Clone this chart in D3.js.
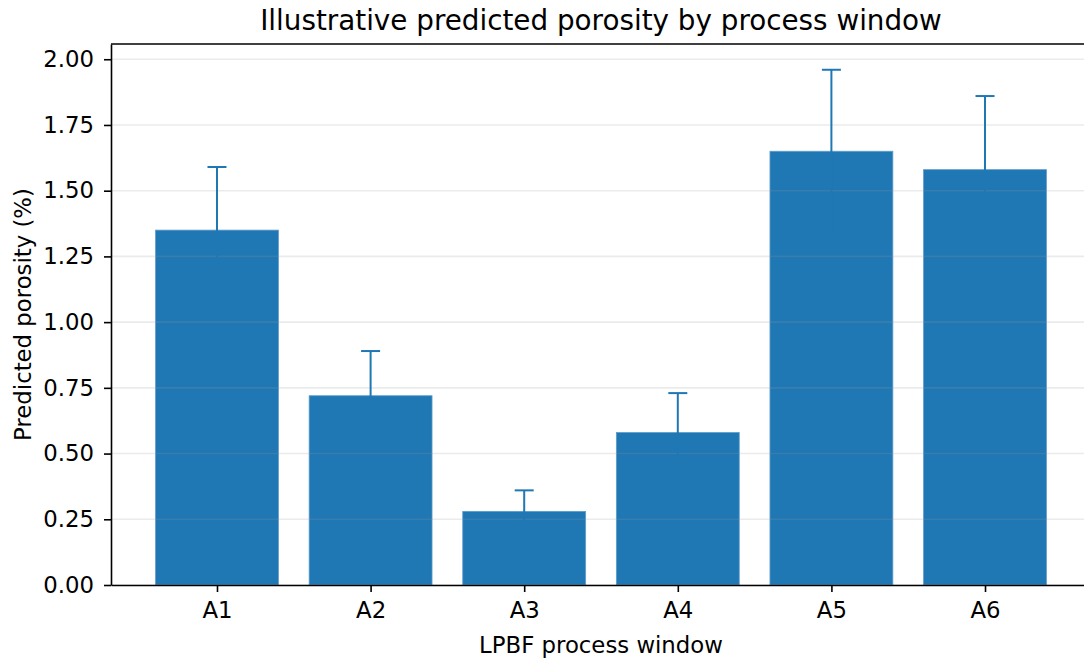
<!DOCTYPE html>
<meta charset="utf-8">
<style>
body { margin: 0; background: #fff; }
svg { font-family: "DejaVu Sans", sans-serif; }
.axis path, .axis line { stroke: #000; stroke-width: 1.6px; }
</style>
<body>
<script src="https://d3js.org/d3.v7.min.js"></script>
<script>
// process windows and predicted porosity (%)
var windows = ["A1", "A2", "A3", "A4", "A5", "A6"];
var porosity = [1.35, 0.72, 0.28, 0.58, 1.65, 1.58];
var errors = [0.24, 0.17, 0.08, 0.15, 0.31, 0.28];
var yTicks = [0, 0.25, 0.5, 0.75, 1.0, 1.25, 1.5, 1.75, 2.0];

var data = windows.map(function(w, i) {
  return {name: w, value: porosity[i], err: errors[i], idx: i};
});

var margin = {top: 44, left: 111},
    plotW = 980,  // axes run past the right edge of the picture (cropped)
    plotH = 541;

var svg = d3.select("body").append("svg")
    .attr("width", 1084)
    .attr("height", 660);

var g = svg.append("g")
    .attr("transform", "translate(" + margin.left + "," + margin.top + ")");

// index scale, with matplotlib-like margins around the bars
var x = d3.scaleLinear().domain([-0.69, 5.69]).range([0, plotW]);
var y = d3.scaleLinear().domain([0, 2.058]).range([plotH, 0]);
var barW = x(0.8) - x(0);

// bars
g.selectAll(".bar").data(data).enter().append("rect")
    .attr("class", "bar")
    .attr("x", function(d) { return x(d.idx) - barW / 2; })
    .attr("width", barW)
    .attr("y", function(d) { return y(d.value); })
    .attr("height", function(d) { return y(0) - y(d.value); })
    .attr("fill", "#1f77b4")
    .attr("stroke", "#5d9dca")
    .attr("stroke-width", 0.8);

// horizontal grid, faint and showing through the bars
g.append("g").attr("class", "grid")
  .selectAll("line").data(yTicks).enter().append("line")
    .attr("x1", 0).attr("x2", plotW)
    .attr("y1", function(d) { return y(d); })
    .attr("y2", function(d) { return y(d); })
    .attr("stroke", "#9a9a9a")
    .attr("stroke-opacity", 0.2)
    .attr("stroke-width", 1.6);

// error bars
var eb = g.selectAll(".err").data(data).enter().append("g")
    .attr("class", "err")
    .attr("stroke", "#1f77b4")
    .attr("stroke-width", 2);
eb.append("line")
    .attr("x1", function(d) { return x(d.idx); })
    .attr("x2", function(d) { return x(d.idx); })
    .attr("y1", function(d) { return y(d.value - d.err); })
    .attr("y2", function(d) { return y(d.value + d.err); });
eb.append("line")
    .attr("x1", function(d) { return x(d.idx) - 9.5; })
    .attr("x2", function(d) { return x(d.idx) + 9.5; })
    .attr("y1", function(d) { return y(d.value + d.err); })
    .attr("y2", function(d) { return y(d.value + d.err); });

// axes
g.append("g").attr("class", "axis")
    .attr("transform", "translate(0," + plotH + ")")
    .call(d3.axisBottom(x).tickValues(d3.range(windows.length))
      .tickFormat(function(i) { return windows[i]; })
      .tickSize(7).tickSizeOuter(0).tickPadding(10))
    .attr("font-size", 22.8)
    .attr("font-family", null);

g.append("g").attr("class", "axis")
    .call(d3.axisLeft(y).tickValues(yTicks).tickFormat(d3.format(".2f"))
      .tickSize(7).tickSizeOuter(0).tickPadding(10))
    .attr("font-size", 22.8)
    .attr("font-family", null);

// top spine
g.append("line")
    .attr("x1", 0).attr("x2", plotW).attr("y1", 0).attr("y2", 0)
    .attr("stroke", "#000").attr("stroke-width", 1.6);

// titles
var cx = margin.left + plotW / 2;
svg.append("text")
    .attr("x", cx).attr("y", 30)
    .attr("text-anchor", "middle")
    .attr("font-size", "27.8px")
    .text("Illustrative predicted porosity by process window");

svg.append("text")
    .attr("x", cx).attr("y", 653)
    .attr("text-anchor", "middle")
    .attr("font-size", "22.8px")
    .text("LPBF process window");

svg.append("text")
    .attr("transform", "translate(31," + (margin.top + plotH / 2) + ") rotate(-90)")
    .attr("text-anchor", "middle")
    .attr("font-size", "22.8px")
    .text("Predicted porosity (%)");
</script>
</body>
